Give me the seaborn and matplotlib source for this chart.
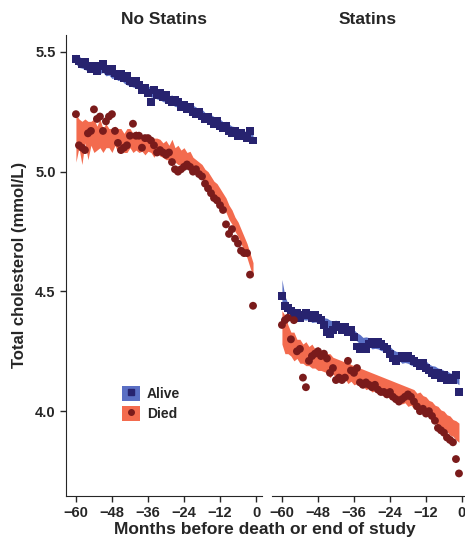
import numpy as np
import pandas as pd
import matplotlib
matplotlib.use("Agg")
import matplotlib.pyplot as plt
from matplotlib.patches import Patch
from matplotlib.lines import Line2D
import seaborn as sns

sns.set_style("ticks")
plt.rcParams['font.family'] = ['Liberation Sans', 'DejaVu Sans']
plt.rcParams['font.weight'] = 'bold'

# months before death / end of study
months = list(range(-60, 0))

# No statins - observed means
alive_nostat = [5.47, 5.46, 5.45, 5.46, 5.44, 5.43, 5.44, 5.42, 5.44, 5.45,
                5.43, 5.42, 5.43, 5.41, 5.40, 5.41, 5.39, 5.40, 5.38, 5.37,
                5.38, 5.36, 5.34, 5.35, 5.33, 5.29, 5.34, 5.32, 5.33, 5.31,
                5.32, 5.30, 5.29, 5.30, 5.29, 5.27, 5.28, 5.26, 5.27, 5.25,
                5.24, 5.25, 5.23, 5.22, 5.23, 5.21, 5.20, 5.21, 5.19, 5.18,
                5.19, 5.17, 5.16, 5.17, 5.15, 5.16, 5.15, 5.14, 5.17, 5.13]
died_nostat = [5.24, 5.11, 5.10, 5.09, 5.16, 5.17, 5.26, 5.22, 5.23, 5.17,
               5.21, 5.23, 5.24, 5.17, 5.12, 5.09, 5.10, 5.11, 5.15, 5.20,
               5.15, 5.15, 5.10, 5.14, 5.14, 5.13, 5.11, 5.08, 5.09, 5.08,
               5.07, 5.08, 5.04, 5.01, 5.00, 5.01, 5.02, 5.03, 5.02, 5.00,
               5.01, 4.99, 4.98, 4.95, 4.93, 4.91, 4.89, 4.88, 4.86, 4.84,
               4.78, 4.74, 4.76, 4.72, 4.70, 4.67, 4.66, 4.66, 4.57, 4.44]

# Statins - observed means
alive_stat = [4.48, 4.44, 4.43, 4.42, 4.40, 4.41, 4.39, 4.40, 4.41, 4.40,
              4.39, 4.40, 4.39, 4.38, 4.36, 4.33, 4.32, 4.34, 4.36, 4.35,
              4.34, 4.35, 4.33, 4.34, 4.31, 4.27, 4.26, 4.27, 4.26, 4.28,
              4.29, 4.28, 4.29, 4.28, 4.27, 4.26, 4.24, 4.22, 4.21, 4.22,
              4.23, 4.22, 4.23, 4.22, 4.21, 4.20, 4.19, 4.20, 4.18, 4.17,
              4.16, 4.15, 4.16, 4.14, 4.15, 4.13, 4.14, 4.13, 4.15, 4.08]
died_stat = [4.36, 4.38, 4.39, 4.30, 4.38, 4.25, 4.26, 4.14, 4.10, 4.21,
             4.23, 4.24, 4.25, 4.23, 4.24, 4.22, 4.16, 4.18, 4.13, 4.14,
             4.13, 4.14, 4.21, 4.17, 4.16, 4.18, 4.12, 4.11, 4.12, 4.11,
             4.10, 4.11, 4.09, 4.08, 4.08, 4.07, 4.08, 4.06, 4.05, 4.04,
             4.05, 4.06, 4.07, 4.06, 4.04, 4.02, 4.00, 4.01, 3.99, 4.00,
             3.98, 3.96, 3.93, 3.92, 3.91, 3.89, 3.88, 3.87, 3.80, 3.74]

# fitted bands: centre and half width
alive_nostat_mid = [5.47, 5.46, 5.45, 5.45, 5.44, 5.44, 5.43, 5.43, 5.43, 5.43,
                    5.42, 5.42, 5.41, 5.41, 5.40, 5.40, 5.39, 5.38, 5.38, 5.37,
                    5.37, 5.36, 5.35, 5.34, 5.34, 5.33, 5.33, 5.32, 5.32, 5.31,
                    5.31, 5.30, 5.30, 5.29, 5.29, 5.28, 5.27, 5.27, 5.26, 5.26,
                    5.25, 5.24, 5.24, 5.23, 5.22, 5.22, 5.21, 5.20, 5.20, 5.19,
                    5.19, 5.18, 5.17, 5.17, 5.16, 5.16, 5.15, 5.15, 5.14, 5.14]
alive_nostat_half = [0.02, 0.025, 0.018, 0.024, 0.02, 0.017, 0.022, 0.018, 0.02, 0.016,
                     0.02, 0.017, 0.021, 0.018, 0.02, 0.016, 0.02, 0.018, 0.021, 0.017,
                     0.02, 0.018, 0.02, 0.017, 0.02, 0.018, 0.02, 0.017, 0.02, 0.018,
                     0.02, 0.017, 0.02, 0.018, 0.02, 0.017, 0.02, 0.018, 0.02, 0.017,
                     0.02, 0.018, 0.02, 0.017, 0.02, 0.018, 0.02, 0.017, 0.02, 0.018,
                     0.02, 0.018, 0.02, 0.018, 0.02, 0.018, 0.02, 0.018, 0.02, 0.02]
died_nostat_mid = [5.14, 5.16, 5.12, 5.17, 5.13, 5.16, 5.15, 5.14, 5.16, 5.13,
                   5.15, 5.14, 5.13, 5.15, 5.13, 5.14, 5.12, 5.13, 5.14, 5.12,
                   5.13, 5.12, 5.12, 5.11, 5.12, 5.11, 5.10, 5.11, 5.10, 5.09,
                   5.09, 5.08, 5.09, 5.07, 5.07, 5.06, 5.06, 5.05, 5.05, 5.03,
                   5.02, 5.01, 5.00, 4.98, 4.97, 4.95, 4.93, 4.92, 4.90, 4.88,
                   4.86, 4.83, 4.81, 4.78, 4.76, 4.73, 4.70, 4.67, 4.63, 4.59]
died_nostat_half = [0.10, 0.06, 0.09, 0.05, 0.08, 0.05, 0.07, 0.05, 0.06, 0.05,
                    0.05, 0.04, 0.05, 0.04, 0.05, 0.04, 0.04, 0.05, 0.04, 0.04,
                    0.04, 0.04, 0.035, 0.04, 0.035, 0.03, 0.04, 0.03, 0.035, 0.03,
                    0.04, 0.03, 0.045, 0.03, 0.04, 0.03, 0.04, 0.03, 0.035, 0.03,
                    0.03, 0.03, 0.03, 0.03, 0.03, 0.03, 0.03, 0.03, 0.03, 0.03,
                    0.03, 0.03, 0.03, 0.03, 0.03, 0.03, 0.03, 0.03, 0.03, 0.03]
alive_stat_mid = [4.50, 4.45, 4.43, 4.42, 4.41, 4.41, 4.40, 4.40, 4.40, 4.40,
                  4.39, 4.39, 4.39, 4.38, 4.37, 4.37, 4.36, 4.36, 4.36, 4.35,
                  4.35, 4.34, 4.34, 4.33, 4.32, 4.31, 4.30, 4.29, 4.29, 4.29,
                  4.28, 4.28, 4.28, 4.27, 4.27, 4.26, 4.25, 4.24, 4.23, 4.23,
                  4.22, 4.22, 4.22, 4.21, 4.21, 4.20, 4.20, 4.19, 4.19, 4.18,
                  4.17, 4.17, 4.16, 4.16, 4.15, 4.15, 4.14, 4.14, 4.14, 4.13]
alive_stat_half = [0.05, 0.03, 0.02, 0.018, 0.02, 0.017, 0.02, 0.018, 0.02, 0.017,
                   0.02, 0.018, 0.02, 0.017, 0.02, 0.018, 0.02, 0.017, 0.02, 0.018,
                   0.02, 0.017, 0.02, 0.018, 0.02, 0.017, 0.02, 0.018, 0.02, 0.017,
                   0.02, 0.018, 0.02, 0.017, 0.02, 0.018, 0.02, 0.017, 0.02, 0.018,
                   0.02, 0.017, 0.02, 0.018, 0.02, 0.017, 0.02, 0.018, 0.02, 0.017,
                   0.02, 0.018, 0.02, 0.017, 0.02, 0.018, 0.02, 0.017, 0.02, 0.02]
died_stat_mid = [4.35, 4.32, 4.30, 4.28, 4.27, 4.26, 4.25, 4.24, 4.24, 4.23,
                 4.23, 4.22, 4.22, 4.21, 4.21, 4.20, 4.19, 4.19, 4.18, 4.18,
                 4.17, 4.17, 4.16, 4.16, 4.15, 4.15, 4.14, 4.14, 4.13, 4.13,
                 4.12, 4.12, 4.11, 4.11, 4.10, 4.10, 4.09, 4.09, 4.08, 4.08,
                 4.07, 4.07, 4.06, 4.06, 4.05, 4.04, 4.04, 4.03, 4.02, 4.01,
                 4.00, 3.99, 3.98, 3.97, 3.96, 3.95, 3.94, 3.93, 3.92, 3.91]
died_stat_half = [0.07, 0.08, 0.06, 0.05, 0.06, 0.04, 0.05, 0.04, 0.05, 0.04,
                  0.05, 0.04, 0.05, 0.04, 0.045, 0.04, 0.05, 0.035, 0.04, 0.035,
                  0.04, 0.035, 0.045, 0.035, 0.04, 0.035, 0.04, 0.035, 0.04, 0.035,
                  0.04, 0.035, 0.04, 0.035, 0.04, 0.035, 0.04, 0.035, 0.04, 0.035,
                  0.04, 0.035, 0.04, 0.035, 0.04, 0.035, 0.04, 0.035, 0.04, 0.035,
                  0.04, 0.035, 0.04, 0.035, 0.04, 0.035, 0.04, 0.035, 0.04, 0.04]

blue_band, blue_pt = '#5a6fc4', '#27236f'
red_band, red_pt = '#f36b4e', '#7a1b1b'

fig = plt.figure(figsize=(4.65, 5.45), dpi=100)
ax1 = fig.add_axes([0.142, 0.09, 0.4215, 0.846])
ax2 = fig.add_axes([0.585, 0.09, 0.413, 0.846])

panels = [
    (ax1, 'No Statins', alive_nostat, died_nostat,
     alive_nostat_mid, alive_nostat_half, died_nostat_mid, died_nostat_half),
    (ax2, 'Statins', alive_stat, died_stat,
     alive_stat_mid, alive_stat_half, died_stat_mid, died_stat_half),
]

for ax, title, alive, died, amid, ahalf, dmid, dhalf in panels:
    amid, ahalf = np.array(amid), np.array(ahalf)
    dmid, dhalf = np.array(dmid), np.array(dhalf)
    ax.fill_between(months, dmid - dhalf, dmid + dhalf, color=red_band, lw=0, zorder=1)
    ax.fill_between(months, amid - ahalf, amid + ahalf, color=blue_band, lw=0, zorder=1)
    df = pd.DataFrame({'month': months + months,
                       'chol': alive + died,
                       'group': ['Alive'] * 60 + ['Died'] * 60})
    sns.scatterplot(data=df, x='month', y='chol', hue='group', style='group',
                    palette={'Alive': blue_pt, 'Died': red_pt},
                    markers={'Alive': 's', 'Died': 'o'},
                    s=32, linewidth=0, legend=False, ax=ax, zorder=3)
    ax.set_title(title, fontsize=12.5, fontweight='bold', pad=8)
    ax.set_ylim(3.646, 5.571)
    ax.set_xticks([-60, -48, -36, -24, -12, 0])
    ax.set_xlabel('')
    ax.set_ylabel('')
    ax.tick_params(axis='x', labelsize=10.5, length=4, width=1)
    for lab in ax.get_xticklabels():
        lab.set_fontweight('bold')

ax1.set_xlim(-63.3, 2.0)
ax2.set_xlim(-63.3, 0.7)

ax1.set_yticks([4.0, 4.5, 5.0, 5.5])
ax1.set_yticklabels(['4.0', '4.5', '5.0', '5.5'], fontweight='bold')
ax1.tick_params(axis='y', labelsize=10.5, length=4, width=1)
ax1.set_ylabel('Total cholesterol (mmol/L)', fontsize=12, fontweight='bold',
               labelpad=6)
sns.despine(ax=ax1)

ax2.set_yticks([])
sns.despine(ax=ax2, left=True)

fig.text(0.57, 0.02, 'Months before death or end of study', ha='center',
         fontsize=12.5, fontweight='bold')

handles = [
    (Patch(facecolor=blue_band, edgecolor='none'),
     Line2D([], [], marker='s', color=blue_pt, ls='none', markersize=4)),
    (Patch(facecolor=red_band, edgecolor='none'),
     Line2D([], [], marker='o', color=red_pt, ls='none', markersize=4)),
]
leg = ax1.legend(handles, ['Alive', 'Died'], loc='upper left',
                 bbox_to_anchor=(0.22, 0.265), frameon=False,
                 handlelength=1.3, handleheight=1.3, handletextpad=0.5,
                 labelspacing=0.3, prop={'weight': 'bold', 'size': 10})

fig.savefig('out.png', dpi=100)
